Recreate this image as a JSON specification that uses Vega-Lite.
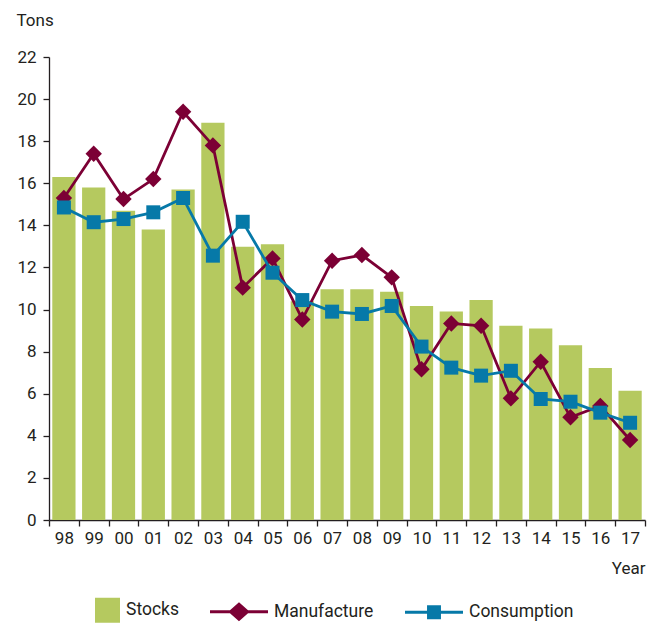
{
  "$schema": "https://vega.github.io/schema/vega-lite/v6.json",
  "width": 596,
  "height": 463,
  "autosize": "none",
  "padding": {"left": 49, "top": 57, "right": 6, "bottom": 106},
  "background": "white",
  "config": {
    "font": "Roboto",
    "view": {"stroke": null},
    "axis": {
      "domainColor": "#231f20",
      "tickColor": "#231f20",
      "labelColor": "#231f20",
      "titleColor": "#231f20",
      "labelFont": "Roboto",
      "titleFont": "Roboto",
      "labelFontSize": 17,
      "titleFontSize": 17,
      "titleFontWeight": "normal",
      "grid": false,
      "tickSize": 6,
      "domainWidth": 1.3,
      "tickWidth": 1.3
    }
  },
  "data": {
    "values": [
      {"year": "98", "Stocks": 16.3, "Manufacture": 15.3, "Consumption": 14.85},
      {"year": "99", "Stocks": 15.8, "Manufacture": 17.4, "Consumption": 14.15},
      {"year": "00", "Stocks": 14.7, "Manufacture": 15.25, "Consumption": 14.3},
      {"year": "01", "Stocks": 13.8, "Manufacture": 16.2, "Consumption": 14.62},
      {"year": "02", "Stocks": 15.7, "Manufacture": 19.4, "Consumption": 15.3},
      {"year": "03", "Stocks": 18.87, "Manufacture": 17.8, "Consumption": 12.56},
      {"year": "04", "Stocks": 12.98, "Manufacture": 11.04, "Consumption": 14.17},
      {"year": "05", "Stocks": 13.1, "Manufacture": 12.43, "Consumption": 11.75},
      {"year": "06", "Stocks": 10.4, "Manufacture": 9.53, "Consumption": 10.45},
      {"year": "07", "Stocks": 10.97, "Manufacture": 12.32, "Consumption": 9.9},
      {"year": "08", "Stocks": 10.97, "Manufacture": 12.59, "Consumption": 9.79},
      {"year": "09", "Stocks": 10.85, "Manufacture": 11.53, "Consumption": 10.17},
      {"year": "10", "Stocks": 10.17, "Manufacture": 7.16, "Consumption": 8.24},
      {"year": "11", "Stocks": 9.91, "Manufacture": 9.34, "Consumption": 7.24},
      {"year": "12", "Stocks": 10.45, "Manufacture": 9.23, "Consumption": 6.86},
      {"year": "13", "Stocks": 9.23, "Manufacture": 5.78, "Consumption": 7.09},
      {"year": "14", "Stocks": 9.1, "Manufacture": 7.52, "Consumption": 5.75},
      {"year": "15", "Stocks": 8.3, "Manufacture": 4.88, "Consumption": 5.62},
      {"year": "16", "Stocks": 7.22, "Manufacture": 5.42, "Consumption": 5.1},
      {"year": "17", "Stocks": 6.14, "Manufacture": 3.8, "Consumption": 4.62}
    ]
  },
  "encoding": {
    "x": {
      "field": "year",
      "type": "nominal",
      "sort": null,
      "scale": {"paddingInner": 0, "paddingOuter": 0},
      "axis": {
        "title": "Year",
        "titleX": 596,
        "titleY": 48,
        "titleAlign": "right",
        "titleBaseline": "middle",
        "labelAngle": 0,
        "tickBand": "extent",
        "labelPadding": 4
      }
    }
  },
  "layer": [
    {
      "mark": {"type": "bar", "color": "#b5c95f", "width": {"band": 0.78}},
      "encoding": {
        "y": {
          "field": "Stocks",
          "type": "quantitative",
          "scale": {"domain": [0, 22], "nice": false},
          "axis": {
            "values": [0, 2, 4, 6, 8, 10, 12, 14, 16, 18, 20, 22],
            "title": "Tons",
            "titleAngle": 0,
            "titleX": -33,
            "titleY": -37,
            "titleAlign": "left",
            "titleBaseline": "middle",
            "labelPadding": 7
          }
        }
      }
    },
    {
      "mark": {"type": "line", "color": "#7c0035", "strokeWidth": 2.8},
      "encoding": {"y": {"field": "Manufacture", "type": "quantitative"}}
    },
    {
      "mark": {"type": "point", "shape": "diamond", "filled": true, "size": 270, "opacity": 1, "color": "#7c0035"},
      "encoding": {"y": {"field": "Manufacture", "type": "quantitative"}}
    },
    {
      "mark": {"type": "line", "color": "#0679a8", "strokeWidth": 2.8},
      "encoding": {"y": {"field": "Consumption", "type": "quantitative"}}
    },
    {
      "mark": {"type": "point", "shape": "square", "filled": true, "size": 196, "opacity": 1, "color": "#0679a8"},
      "encoding": {"y": {"field": "Consumption", "type": "quantitative"}}
    },
    {
      "transform": [
        {"fold": ["Stocks", "Manufacture", "Consumption"], "as": ["series", "value"]},
        {"filter": "false"}
      ],
      "mark": {"type": "point", "filled": true},
      "encoding": {
        "y": {"field": "value", "type": "quantitative"},
        "color": {
          "field": "series",
          "type": "nominal",
          "scale": {"domain": ["Stocks", "Manufacture", "Consumption"], "range": ["#b5c95f", "#7c0035", "#0679a8"]},
          "legend": {
            "orient": "none", "legendX": 13, "legendY": 524, "direction": "horizontal", "title": null,
            "symbolSize": 3364, "symbolStrokeWidth": 0, "symbolOpacity": 1,
            "labelFontSize": 17.5, "labelColor": "#231f20", "labelFont": "Roboto",
            "labelOffset": 6, "columnPadding": 31, "padding": 0
          }
        },
        "shape": {
          "field": "series",
          "type": "nominal",
          "scale": {
            "domain": ["Stocks", "Manufacture", "Consumption"],
            "range": [
              "M0.138,-0.431L1,-0.431L1,0.431L0.138,0.431Z",
              "M-1,-0.052L1,-0.052L1,0.052L-1,0.052Z M0,-0.33L0.37,0L0,0.33L-0.37,0Z",
              "M-1,-0.052L1,-0.052L1,0.052L-1,0.052Z M-0.24,-0.24L0.24,-0.24L0.24,0.24L-0.24,0.24Z"
            ]
          },
          "legend": {
            "orient": "none", "legendX": 13, "legendY": 524, "direction": "horizontal", "title": null,
            "symbolSize": 3364, "symbolStrokeWidth": 0, "symbolOpacity": 1,
            "labelFontSize": 17.5, "labelColor": "#231f20", "labelFont": "Roboto",
            "labelOffset": 6, "columnPadding": 31, "padding": 0
          }
        }
      }
    }
  ]
}
